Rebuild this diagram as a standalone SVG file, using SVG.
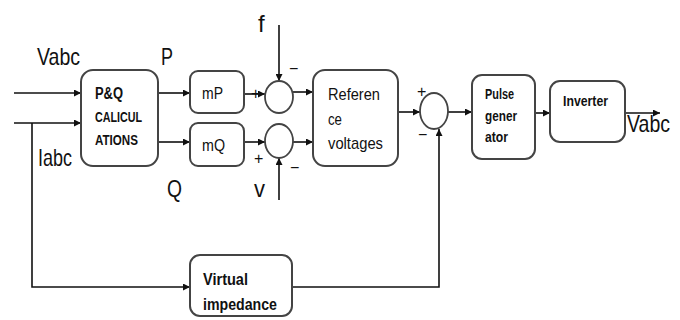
<svg xmlns="http://www.w3.org/2000/svg" width="680" height="320" viewBox="0 0 680 320">
<style>
.box{fill:#fff;stroke:#444;stroke-width:2}
.sum{fill:#fff;stroke:#444;stroke-width:1.8}
.arr{fill:none;stroke:#111;stroke-width:1.6;marker-end:url(#ah)}
text{font-family:"Liberation Sans",Arial,sans-serif;fill:#111}
.lbl{font-size:24px}
.bt{font-weight:bold}
.rt{font-size:17px}
.sg{font-size:16px}
</style>
<defs>
<marker id="ah" viewBox="0 0 10 10" refX="10" refY="5" markerWidth="7" markerHeight="7" orient="auto" markerUnits="userSpaceOnUse">
<path d="M0,0 L10,5 L0,10 z" fill="#111"/>
</marker>
</defs>
<rect width="680" height="320" fill="#fff"/>
<g id="connectors">
<line class="arr" x1="14" y1="93" x2="81" y2="93"/>
<line class="arr" x1="14" y1="123" x2="81" y2="123"/>
<polyline class="arr" points="32,123 32,287 190,287"/>
<line class="arr" x1="158" y1="93" x2="190" y2="93"/>
<line class="arr" x1="158" y1="142" x2="190" y2="142"/>
<line class="arr" x1="244" y1="94" x2="265" y2="94"/>
<line class="arr" x1="244" y1="142" x2="265" y2="142"/>
<line class="arr" x1="279" y1="25" x2="279" y2="81"/>
<line class="arr" x1="279" y1="200" x2="279" y2="158"/>
<line class="arr" x1="293" y1="92" x2="313" y2="92"/>
<line class="arr" x1="293" y1="142" x2="313" y2="142"/>
<line class="arr" x1="398" y1="112" x2="420" y2="112"/>
<polyline class="arr" points="292,287 439,287 439,129"/>
<line class="arr" x1="448" y1="112" x2="472" y2="112"/>
<line class="arr" x1="535" y1="113" x2="550" y2="113"/>
<line class="arr" x1="625" y1="113" x2="660" y2="113"/>
</g>
<g id="pq">
<rect class="box" x="81" y="70" width="77" height="96" rx="12"/>
<text class="bt" x="95" y="99" style="font-size:16px" textLength="28" lengthAdjust="spacingAndGlyphs">P&amp;Q</text>
<text class="bt" x="95" y="122" style="font-size:15px" textLength="47" lengthAdjust="spacingAndGlyphs">CALICUL</text>
<text class="bt" x="95" y="145" style="font-size:15px" textLength="43" lengthAdjust="spacingAndGlyphs">ATIONS</text>
</g>
<g id="mp">
<rect class="box" x="190" y="71" width="54" height="42" rx="8"/>
<text class="rt" x="202" y="99" textLength="21" lengthAdjust="spacingAndGlyphs">mP</text>
</g>
<g id="mq">
<rect class="box" x="190" y="123" width="54" height="43" rx="8"/>
<text class="rt" x="202" y="151" textLength="23" lengthAdjust="spacingAndGlyphs">mQ</text>
</g>
<g id="sum1">
<ellipse class="sum" cx="279" cy="97" rx="14" ry="16"/>
</g>
<g id="sum2">
<ellipse class="sum" cx="279" cy="141" rx="14" ry="17"/>
</g>
<g id="ref">
<rect class="box" x="313" y="70" width="85" height="96" rx="12"/>
<text class="rt" x="328" y="100" textLength="52" lengthAdjust="spacingAndGlyphs">Referen</text>
<text class="rt" x="328" y="125" textLength="14" lengthAdjust="spacingAndGlyphs">ce</text>
<text class="rt" x="328" y="149" textLength="55" lengthAdjust="spacingAndGlyphs">voltages</text>
</g>
<g id="sum3">
<ellipse class="sum" cx="434" cy="111" rx="14" ry="18"/>
</g>
<g id="pulse">
<rect class="box" x="472" y="75" width="63" height="84" rx="10"/>
<text class="bt" x="485" y="99" style="font-size:14px" textLength="29" lengthAdjust="spacingAndGlyphs">Pulse</text>
<text class="bt" x="485" y="121" style="font-size:14px" textLength="32" lengthAdjust="spacingAndGlyphs">gener</text>
<text class="bt" x="485" y="142" style="font-size:14px" textLength="23" lengthAdjust="spacingAndGlyphs">ator</text>
</g>
<g id="inverter">
<rect class="box" x="550" y="81" width="75" height="61" rx="10"/>
<text class="bt" x="563" y="106" style="font-size:14px" textLength="45" lengthAdjust="spacingAndGlyphs">Inverter</text>
</g>
<g id="virtual">
<rect class="box" x="190" y="255" width="102" height="61" rx="10"/>
<text class="bt" x="203" y="285" style="font-size:17px" textLength="45" lengthAdjust="spacingAndGlyphs">Virtual</text>
<text class="bt" x="203" y="310" style="font-size:17px" textLength="74" lengthAdjust="spacingAndGlyphs">impedance</text>
</g>
<g id="labels">
<text class="lbl" x="37" y="65" textLength="43" lengthAdjust="spacingAndGlyphs">Vabc</text>
<text class="lbl" x="161" y="65" textLength="12" lengthAdjust="spacingAndGlyphs">P</text>
<text class="lbl" x="38" y="166" textLength="34" lengthAdjust="spacingAndGlyphs">Iabc</text>
<text class="lbl" x="167" y="197" textLength="15" lengthAdjust="spacingAndGlyphs">Q</text>
<text class="lbl" x="258" y="32">f</text>
<text class="lbl" x="254" y="197" textLength="11" lengthAdjust="spacingAndGlyphs">v</text>
<text class="lbl" x="627" y="132" textLength="43" lengthAdjust="spacingAndGlyphs">Vabc</text>
<text class="sg" x="251" y="99">+</text>
<text class="sg" x="289" y="74">−</text>
<text class="sg" x="254" y="164">+</text>
<text class="sg" x="290" y="173">−</text>
<text class="sg" x="417" y="97">+</text>
<text class="sg" x="418" y="140">−</text>
</g>
</svg>
